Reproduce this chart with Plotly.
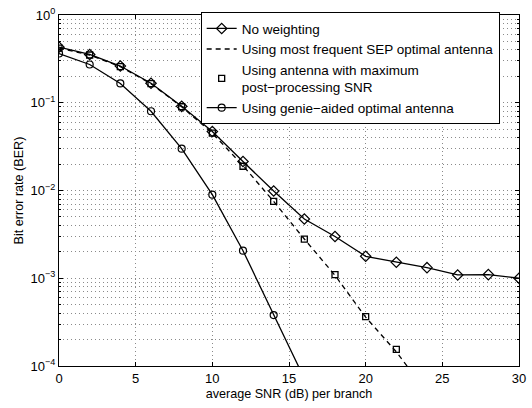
import plotly.graph_objects as go

snr = [0, 2, 4, 6, 8, 10, 12, 14, 16, 18, 20, 22, 24, 26, 28, 30]
ber_no_weight = [0.43, 0.355, 0.262, 0.167, 0.091, 0.047, 0.0214, 0.00987, 0.00473,
                 0.00299, 0.00178, 0.00152, 0.00132, 0.00109, 0.0011, 0.001]

snr_sep = [0, 2, 4, 6, 8, 10, 12, 14, 16, 18, 20, 22, 24]
ber_sep = [0.42, 0.35, 0.258, 0.165, 0.09, 0.045, 0.0192, 0.0075, 0.0028,
           0.00108, 0.00036, 0.000145, 0.00005]

snr_max = [0, 2, 4, 6, 8, 10, 12, 14, 16, 18, 20, 22]
ber_max = [0.42, 0.35, 0.258, 0.165, 0.09, 0.045, 0.0189, 0.0075, 0.00279,
           0.0011, 0.000366, 0.000155]

snr_genie = [0, 2, 4, 6, 8, 10, 12, 14, 16]
ber_genie = [0.364, 0.273, 0.166, 0.080, 0.030, 0.00897, 0.00206, 0.00038, 0.000072]

x_tickvals = [0, 5, 10, 15, 20, 25, 30]
y_tickvals = [1e-4, 1e-3, 1e-2, 1e-1, 1]
y_ticktext = ["10<sup>\u22124</sup>", "10<sup>\u22123</sup>", "10<sup>\u22122</sup>",
              "10<sup>\u22121</sup>", "10<sup>0</sup>"]
y_minorvals = [m * d for d in [1e-4, 1e-3, 1e-2, 1e-1] for m in range(2, 10)]

names = ["No weighting",
         "Using most frequent SEP optimal antenna",
         "Using antenna with maximum<br>post\u2212processing SNR",
         "Using genie\u2212aided optimal antenna"]

fig = go.Figure()
fig.add_trace(go.Scatter(x=snr, y=ber_no_weight, name=names[0], mode="lines+markers",
                         line=dict(color="black", width=1.3),
                         marker=dict(symbol="diamond-open", size=8, color="black", line=dict(width=1.2))))
fig.add_trace(go.Scatter(x=snr_sep, y=ber_sep, name=names[1], mode="lines",
                         line=dict(color="black", width=1.3, dash="5px,4px")))
fig.add_trace(go.Scatter(x=snr_max, y=ber_max, name=names[2], mode="markers",
                         marker=dict(symbol="square-open", size=6, color="black", line=dict(width=1.3))))
fig.add_trace(go.Scatter(x=snr_genie, y=ber_genie, name=names[3], mode="lines+markers",
                         line=dict(color="black", width=1.3),
                         marker=dict(symbol="circle-open", size=7, color="black", line=dict(width=1.2))))

fam = "Liberation Sans, Arial, sans-serif"
gridc = "#8a8a8a"
gdash = "1px,3px"

fig.update_layout(
    width=532, height=408,
    margin=dict(l=59, r=6, t=11, b=42),
    plot_bgcolor="white", paper_bgcolor="white",
    font=dict(family=fam, size=13, color="black"),
    showlegend=True,
    legend=dict(x=0.308, y=1.008, xanchor="left", yanchor="top",
                bordercolor="black", borderwidth=1, bgcolor="white",
                font=dict(family=fam, size=13.5),
                tracegroupgap=0, itemwidth=30),
    xaxis=dict(range=[0, 30], tickmode="array", tickvals=x_tickvals,
               ticklabeloverflow="allow",
               showline=True, linecolor="black", linewidth=1,
               mirror="ticks", ticks="inside", ticklen=4, tickcolor="black",
               showgrid=True, gridcolor=gridc, griddash=gdash, gridwidth=1,
               zeroline=False, tickfont=dict(size=13),
               title=dict(text="average SNR (dB) per branch", standoff=4,
                          font=dict(size=12.6))),
    yaxis=dict(type="log", range=[-4, 0], tickmode="array",
               tickvals=y_tickvals, ticktext=y_ticktext,
               ticklabeloverflow="allow",
               showline=True, linecolor="black", linewidth=1,
               mirror="ticks", ticks="inside", ticklen=4, tickcolor="black",
               showgrid=True, gridcolor=gridc, griddash=gdash, gridwidth=1,
               zeroline=False, tickfont=dict(size=13),
               minor=dict(tickmode="array", tickvals=y_minorvals,
                          ticks="inside", ticklen=2, tickcolor="black",
                          showgrid=True, gridcolor=gridc, griddash=gdash, gridwidth=1),
               title=dict(text="Bit error rate (BER)", standoff=4, font=dict(size=12.6))),
)

fig.write_html("out.html")
